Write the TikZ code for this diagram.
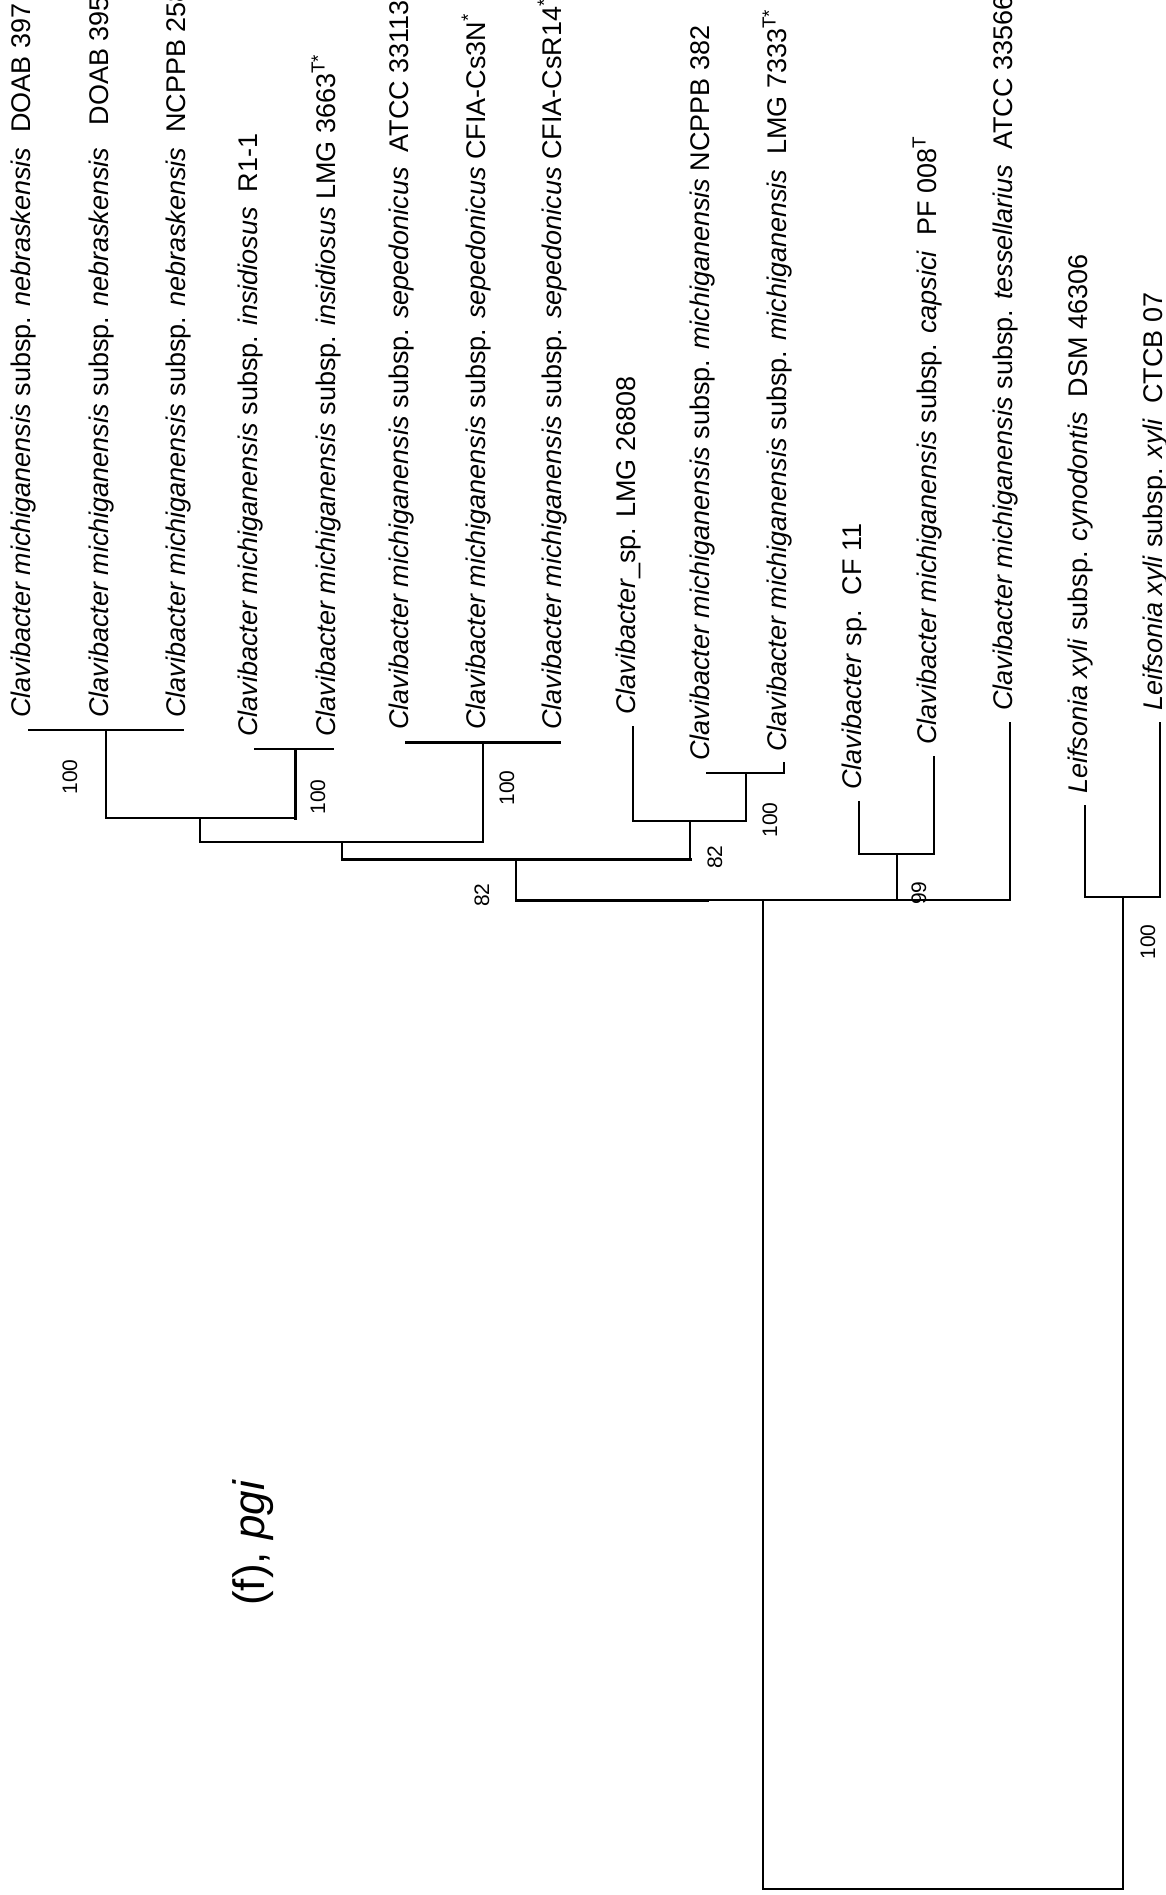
\documentclass[tikz,border=0pt]{standalone}
\usepackage{fontspec}
\setmainfont{Liberation Sans}
\begin{document}
\begin{tikzpicture}[x=0.5pt,y=-0.5pt,
  br/.style={line width=1pt,line cap=rect},
  brthick/.style={line width=1.5pt,line cap=rect},
  leaf/.style={rotate=90,anchor=base west,inner sep=0pt,font=\fontsize{13.5}{16}\selectfont},
  bootlab/.style={rotate=90,inner sep=0pt,font=\fontsize{10.5}{12}\selectfont},
  ttl/.style={rotate=90,inner sep=0pt,font=\fontsize{22}{26}\selectfont}]
\useasboundingbox (0,0) rectangle (1166,1895);
\clip (0,0) rectangle (1166,1895);
% tips
\coordinate (t1) at (29,730);
\coordinate (t2) at (106,730);
\coordinate (t3) at (183,730);
\coordinate (t4) at (255,749);
\coordinate (t5) at (333,749);
\coordinate (t6) at (406,742);
\coordinate (t7) at (483,742);
\coordinate (t8) at (559,742);
\coordinate (t9) at (633,727);
\coordinate (t10) at (707,773);
\coordinate (t11) at (784,763);
\coordinate (t12) at (859,802);
\coordinate (t13) at (934,757);
\coordinate (t14) at (1010,723);
\coordinate (t15) at (1085,806);
\coordinate (t16) at (1160,723);
% internal nodes
\coordinate (n1) at (106,818);
\coordinate (n2) at (295,818);
\coordinate (a1) at (200,818);
\coordinate (a1b) at (200,842);
\coordinate (n3) at (483,842);
\coordinate (a2) at (342,842);
\coordinate (a2b) at (342,859);
\coordinate (n4) at (746,821);
\coordinate (m1) at (746,773);
\coordinate (t11b) at (784,773);
\coordinate (a3) at (690,821);
\coordinate (a3b) at (690,859);
\coordinate (a4) at (516,859);
\coordinate (a4b) at (516,900);
\coordinate (a4t) at (707,900);
\coordinate (n5) at (897,854);
\coordinate (c5) at (897,900);
\coordinate (rb) at (763,900);
\coordinate (lb) at (1123,1889);
\coordinate (lt) at (1123,897);
% branches
\draw[br] (t1) -- (t3);
\draw[br] (t2) -- (n1);
\draw[br] (t4) -- (t5);
\draw[brthick] (n2 |- t4) -- (n2);
\draw[br] (n1) -- (n2);
\draw[br] (a1) -- (a1b);
\draw[brthick] (t6) -- (t8);
\draw[br] (t7) -- (n3);
\draw[br] (a1b) -- (n3);
\draw[br] (a2) -- (a2b);
\draw[br] (t9) |- (n4);
\draw[br] (t10) -- (t11b) -- (t11);
\draw[br] (m1) -- (n4);
\draw[br] (a3) -- (a3b);
\draw[brthick] (a2b) -- (a3b);
\draw[br] (a4) -- (a4b);
\draw[brthick] (a4b) -- (a4t);
\draw[br] (t12) |- (n5) -| (t13);
\draw[br] (n5) -- (c5);
\draw[br] (a4b) -| (t14);
\draw[br] (rb) |- (lb) -- (lt);
\draw[br] (t15) |- (lt) -| (t16);
% leaf labels
\node[leaf] (l1) at ([xshift=1]t1 |- 0,718) {\textit{Clavibacter michiganensis} subsp. \textit{nebraskensis}\ \ DOAB 397};
\node[leaf] (l2) at ([xshift=1]t2 |- 0,718) {\textit{Clavibacter michiganensis} subsp. \textit{nebraskensis}\ \ \ DOAB 395};
\node[leaf] (l3) at ([xshift=1]t3 |- 0,718) {\textit{Clavibacter michiganensis} subsp. \textit{nebraskensis}\ \ NCPPB 2581};
\node[leaf] (l4) at ([xshift=1]t4 |- 0,737) {\textit{Clavibacter michiganensis} subsp. \textit{insidiosus}\ \ R1-1};
\node[leaf] (l5) at ([xshift=1]t5 |- 0,737) {\textit{Clavibacter michiganensis} subsp. \textit{insidiosus} LMG 3663\textsuperscript{T*}};
\node[leaf] (l6) at ([xshift=1]t6 |- 0,730) {\textit{Clavibacter michiganensis} subsp. \textit{sepedonicus}\ \ ATCC 33113\textsuperscript{T}};
\node[leaf] (l7) at ([xshift=1]t7 |- 0,730) {\textit{Clavibacter michiganensis} subsp. \textit{sepedonicus} CFIA-Cs3N\textsuperscript{*}};
\node[leaf] (l8) at ([xshift=1]t8 |- 0,730) {\textit{Clavibacter michiganensis} subsp. \textit{sepedonicus} CFIA-CsR14\textsuperscript{*}};
\node[leaf] (l9) at ([xshift=1]t9 |- 0,715) {\textit{Clavibacter}\_sp. LMG 26808};
\node[leaf] (l10) at ([xshift=1]t10 |- 0,761) {\textit{Clavibacter michiganensis} subsp. \textit{michiganensis} NCPPB 382};
\node[leaf] (l11) at ([xshift=1]t11 |- 0,752) {\textit{Clavibacter michiganensis} subsp. \textit{michiganensis}\ \ LMG 7333\textsuperscript{T*}};
\node[leaf] (l12) at ([xshift=1]t12 |- 0,790) {\textit{Clavibacter} sp.\ \ CF 11};
\node[leaf] (l13) at ([xshift=1]t13 |- 0,745) {\textit{Clavibacter michiganensis} subsp. \textit{capsici}\ \ PF 008\textsuperscript{T}};
\node[leaf] (l14) at ([xshift=1]t14 |- 0,711) {\textit{Clavibacter michiganensis} subsp. \textit{tessellarius}\ \ ATCC 33566\textsuperscript{T}};
\node[leaf] (l15) at ([xshift=1]t15 |- 0,794) {\textit{Leifsonia xyli} subsp. \textit{cynodontis}\ \ DSM 46306};
\node[leaf] (l16) at ([xshift=1]t16 |- 0,711) {\textit{Leifsonia xyli} subsp. \textit{xyli}\ \ CTCB 07};
% bootstrap values
\node[bootlab] (b1) at (70,777) {100};
\node[bootlab] (b2) at (318,797) {100};
\node[bootlab] (b3) at (507,788) {100};
\node[bootlab] (b4) at (482,895) {82};
\node[bootlab] (b5) at (715,857) {82};
\node[bootlab] (b6) at (770,820) {100};
\node[bootlab] (b7) at (919,893) {99};
\node[bootlab] (b8) at (1148,942) {100};
% title
\node[ttl] (title) at (253,1543) {(f), \textit{pgi}};
\end{tikzpicture}
\end{document}
